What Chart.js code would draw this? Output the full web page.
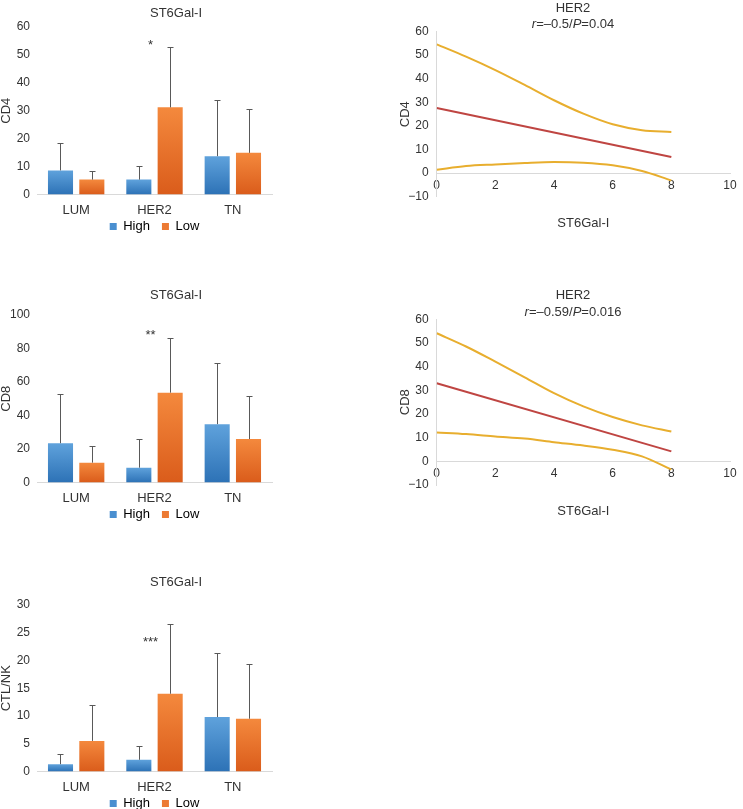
<!DOCTYPE html>
<html>
<head>
<meta charset="utf-8">
<script src="https://cdn.jsdelivr.net/npm/chart.js@4.4.0/dist/chart.umd.min.js"></script>
<style>
  body { margin: 0; background: #fff; overflow: hidden; }
  #page { position: relative; width: 743px; height: 809px; overflow: hidden; }
  canvas { position: absolute; }
</style>
</head>
<body>
<div id="page">
  <canvas id="cd4Bar" width="352" height="261" style="left:0;top:0"></canvas>
  <canvas id="cd8Bar" width="352" height="269" style="left:0;top:280px"></canvas>
  <canvas id="ctlBar" width="352" height="268" style="left:0;top:570px"></canvas>
  <canvas id="cd4Fit" width="362" height="235" style="left:392px;top:0"></canvas>
  <canvas id="cd8Fit" width="362" height="235" style="left:392px;top:287px"></canvas>
</div>
<script>
// Bar charts: mean and SD per subtype, high vs low ST6Gal-I
const categories = ['LUM', 'HER2', 'TN'];

const cd4High = [8.6, 5.3, 13.7];
const cd4HighSd = [9.9, 4.9, 20.1];
const cd4Low = [5.3, 31.2, 14.9];
const cd4LowSd = [3.1, 21.8, 15.7];
const cd4Sig = ['', '*', ''];
const cd4SigAt = [0, 53.5, 0];

const cd8High = [23.4, 8.8, 34.8];
const cd8HighSd = [29.4, 16.9, 36.3];
const cd8Low = [11.8, 53.6, 25.9];
const cd8LowSd = [10.1, 32.4, 25.9];
const cd8Sig = ['', '**', ''];
const cd8SigAt = [0, 88, 0];

const ctlHigh = [1.3, 2.1, 9.8];
const ctlHighSd = [1.8, 2.4, 11.6];
const ctlLow = [5.5, 14.0, 9.5];
const ctlLowSd = [6.4, 12.6, 9.8];
const ctlSig = ['', '***', ''];
const ctlSigAt = [0, 23.2, 0];

// Correlation plots (HER2): fit line and confidence band
const bandX = [0, 1, 2, 3, 4, 5, 6, 7, 8];
const fitX = [0, 8];

const cd4Upper = [54.6, 49.4, 43.7, 37.4, 30.9, 25.2, 20.7, 18.2, 17.4];
const cd4Lower = [1.4, 3.0, 3.7, 4.3, 4.7, 4.4, 3.3, 0.9, -3.1];
const cd4Fit = [27.6, 6.8];
const cd4Stat = ['\u20130.5', '0.04'];

const cd8Upper = [54.1, 48.5, 42.1, 35.5, 28.8, 23.2, 18.7, 15.2, 12.6];
const cd8Lower = [12.2, 11.5, 10.5, 9.6, 8.1, 6.7, 4.9, 2.1, -3.5];
const cd8Fit = [33.0, 4.2];
const cd8Stat = ['\u20130.59', '0.016'];

const FONT = '"Liberation Sans", Arial, sans-serif';
const TEXT = '#333';
const AXIS = '#d9d9d9';

Chart.defaults.font.family = FONT;
Chart.defaults.color = TEXT;

// hidden right axis, only used to keep blank space right of the plot
function padAxis(w) {
    return {
        type: 'linear',
        position: 'right',
        display: true,
        grid: { display: false, drawTicks: false },
        border: { display: false },
        ticks: { display: false },
        afterFit: s => { s.width = w; }
    };
}

// vertical gradient per bar, like the office-style fill
function barFill(top, bottom) {
    return ctx => {
        const chart = ctx.chart;
        const y = chart.scales && chart.scales.y;
        if (!chart.chartArea || !y || ctx.raw == null) return bottom;
        const y0 = y.getPixelForValue(ctx.raw);
        const y1 = y.getPixelForValue(0);
        if (!isFinite(y0) || !isFinite(y1) || y0 === y1) return bottom;
        const g = chart.ctx.createLinearGradient(0, y0, 0, y1);
        g.addColorStop(0, top);
        g.addColorStop(1, bottom);
        return g;
    };
}

const errorBarPlugin = {
    id: 'errorBars',
    afterDatasetsDraw(chart) {
        const ctx = chart.ctx;
        const y = chart.scales.y;
        ctx.save();
        ctx.strokeStyle = '#595959';
        ctx.lineWidth = 1;
        chart.data.datasets.forEach((ds, i) => {
            chart.getDatasetMeta(i).data.forEach((bar, j) => {
                const top = Math.round(y.getPixelForValue(ds.data[j] + ds.errorBars[j])) + 0.5;
                const x = Math.round(bar.x) + 0.5;
                ctx.beginPath();
                ctx.moveTo(x, bar.y);
                ctx.lineTo(x, top);
                ctx.moveTo(x - 3, top);
                ctx.lineTo(x + 3, top);
                ctx.stroke();
            });
        });
        ctx.restore();
    }
};

const sigPlugin = {
    id: 'sigMarks',
    afterDatasetsDraw(chart, args, opts) {
        const ctx = chart.ctx;
        const x = chart.scales.x;
        const y = chart.scales.y;
        ctx.save();
        ctx.font = '13px ' + FONT;
        ctx.fillStyle = TEXT;
        ctx.textAlign = 'center';
        ctx.textBaseline = 'middle';
        opts.text.forEach((t, j) => {
            if (t) ctx.fillText(t, x.getPixelForValue(j) - 4, y.getPixelForValue(opts.at[j]));
        });
        ctx.restore();
    }
};

// pull the legend up closer to the category labels
const legendNudge = {
    id: 'legendNudge',
    afterLayout(chart, args, opts) {
        if (chart.legend && opts.up) {
            chart.legend.top -= opts.up;
            chart.legend.bottom -= opts.up;
        }
    }
};

// "r=.../P=..." line under the title, with r and P in italics
const statPlugin = {
    id: 'statLine',
    afterDraw(chart, args, opts) {
        if (!opts.r) return;
        const ctx = chart.ctx;
        const parts = [
            ['italic 13px ' + FONT, 'r'],
            ['13px ' + FONT, '=' + opts.r + '/'],
            ['italic 13px ' + FONT, 'P'],
            ['13px ' + FONT, '=' + opts.p]
        ];
        ctx.save();
        ctx.fillStyle = TEXT;
        ctx.textBaseline = 'middle';
        ctx.textAlign = 'left';
        let total = 0;
        parts.forEach(p => { ctx.font = p[0]; total += ctx.measureText(p[1]).width; });
        let cx = chart.width / 2 - total / 2;
        const cy = chart.chartArea.top - 7;
        parts.forEach(p => {
            ctx.font = p[0];
            ctx.fillText(p[1], cx, cy);
            cx += ctx.measureText(p[1]).width;
        });
        ctx.restore();
    }
};

function makeBarChart(id, yTitle, high, highSd, low, lowSd, sig, sigAt, yMax, yStep, titlePad) {
    return new Chart(document.getElementById(id), {
        type: 'bar',
        data: {
            labels: categories,
            datasets: [
                {
                    label: 'High',
                    data: high,
                    errorBars: highSd,
                    backgroundColor: barFill('#5FA2DC', '#2D72B6'),
                    legendColor: '#4A8FD0',
                    borderWidth: 0
                },
                {
                    label: 'Low',
                    data: low,
                    errorBars: lowSd,
                    backgroundColor: barFill('#F4893D', '#DA5C1B'),
                    legendColor: '#EC7A33',
                    borderWidth: 0
                }
            ]
        },
        options: {
            responsive: false,
            animation: false,
            devicePixelRatio: 1,
            categoryPercentage: 0.8,
            barPercentage: 0.8,
            plugins: {
                title: {
                    display: true,
                    text: 'ST6Gal-I',
                    font: { size: 13, weight: 'normal' },
                    color: TEXT,
                    padding: titlePad
                },
                legend: {
                    position: 'bottom',
                    fullSize: false,
                    labels: {
                        boxWidth: 7,
                        boxHeight: 7,
                        padding: 12,
                        font: { size: 13 },
                        color: TEXT,
                        generateLabels: chart => chart.data.datasets.map((ds, i) => ({
                            text: ds.label,
                            fillStyle: ds.legendColor,
                            strokeStyle: ds.legendColor,
                            lineWidth: 0,
                            datasetIndex: i,
                            hidden: false
                        }))
                    }
                },
                legendNudge: { up: 18 },
                tooltip: { enabled: false },
                sigMarks: { text: sig, at: sigAt }
            },
            scales: {
                x: {
                    grid: { display: false, drawTicks: false },
                    border: { color: AXIS },
                    ticks: { padding: 8, font: { size: 13 }, color: TEXT }
                },
                y: {
                    min: 0,
                    max: yMax,
                    grid: { display: false, drawTicks: false },
                    border: { display: false },
                    ticks: { stepSize: yStep, padding: 7, font: { size: 12 }, color: TEXT },
                    title: {
                        display: true,
                        text: yTitle,
                        font: { size: 13, lineHeight: 1 },
                        padding: 0,
                        color: TEXT
                    },
                    afterFit: s => { s.width = 37; }
                },
                pad: padAxis(80)
            }
        },
        plugins: [errorBarPlugin, sigPlugin, legendNudge]
    });
}

function makeFitChart(id, yTitle, upper, lower, fit, stat, titleBottom, padBottom) {
    const band = {
        borderColor: '#E8AE2E',
        borderWidth: 2,
        pointRadius: 0,
        showLine: true,
        cubicInterpolationMode: 'monotone'
    };
    return new Chart(document.getElementById(id), {
        type: 'scatter',
        data: {
            datasets: [
                Object.assign({ label: 'upper', data: bandX.map((x, i) => ({ x: x, y: upper[i] })) }, band),
                Object.assign({ label: 'lower', data: bandX.map((x, i) => ({ x: x, y: lower[i] })) }, band),
                {
                    label: 'fit',
                    data: fitX.map((x, i) => ({ x: x, y: fit[i] })),
                    borderColor: '#BF4542',
                    borderWidth: 2,
                    pointRadius: 0,
                    showLine: true
                }
            ]
        },
        options: {
            responsive: false,
            animation: false,
            devicePixelRatio: 1,
            layout: { padding: { bottom: padBottom } },
            plugins: {
                title: {
                    display: true,
                    text: 'HER2',
                    font: { size: 13, weight: 'normal' },
                    color: TEXT,
                    padding: { top: 1, bottom: titleBottom }
                },
                legend: { display: false },
                tooltip: { enabled: false },
                statLine: { r: stat[0], p: stat[1] }
            },
            scales: {
                x: {
                    type: 'linear',
                    position: { y: 0 },
                    min: 0,
                    max: 10,
                    grid: { display: false, drawTicks: false },
                    border: { color: AXIS },
                    ticks: { stepSize: 2, padding: 5, font: { size: 12 }, color: TEXT },
                    title: {
                        display: true,
                        text: 'ST6Gal-I',
                        font: { size: 13 },
                        padding: { top: 18, bottom: 0 },
                        color: TEXT
                    }
                },
                y: {
                    min: -10,
                    max: 60,
                    grid: { display: false, drawTicks: false },
                    border: { color: AXIS },
                    ticks: {
                        stepSize: 10,
                        padding: 8,
                        font: { size: 12 },
                        color: TEXT,
                        callback: v => v < 0 ? '\u2212' + Math.abs(v) : v
                    },
                    title: {
                        display: true,
                        text: yTitle,
                        font: { size: 13, lineHeight: 1 },
                        padding: { top: 6.5, bottom: 0 },
                        color: TEXT
                    },
                    afterFit: s => { s.width = 44.7; }
                },
                pad: padAxis(24)
            }
        },
        plugins: [statPlugin]
    });
}

makeBarChart('cd4Bar', 'CD4', cd4High, cd4HighSd, cd4Low, cd4LowSd, cd4Sig, cd4SigAt, 60, 10, { top: 6, bottom: 5.4 });
makeBarChart('cd8Bar', 'CD8', cd8High, cd8HighSd, cd8Low, cd8LowSd, cd8Sig, cd8SigAt, 100, 10, { top: 7.2, bottom: 12.2 });
makeBarChart('ctlBar', 'CTL/NK', ctlHigh, ctlHighSd, ctlLow, ctlLowSd, ctlSig, ctlSigAt, 30, 5, { top: 4.2, bottom: 15.2 });

makeFitChart('cd4Fit', 'CD4', cd4Upper, cd4Lower, cd4Fit, cd4Stat, 15, 38.3);
makeFitChart('cd8Fit', 'CD8', cd8Upper, cd8Lower, cd8Fit, cd8Stat, 15.7, 37);
</script>
</body>
</html>
